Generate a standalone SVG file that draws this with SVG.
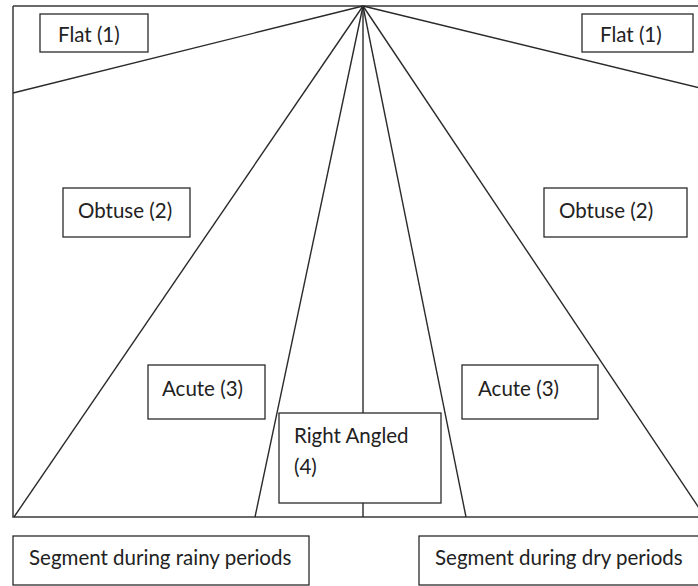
<svg xmlns="http://www.w3.org/2000/svg" width="698" height="586" viewBox="0 0 698 586">
<style>
.frame{fill:none;stroke:#3a3a3a;stroke-width:1.5}
.ln{stroke:#2a2a2a;stroke-width:1.4;fill:none}
.box{fill:#fff;stroke:#2a2a2a;stroke-width:1.3}
.t{font-family:Lato,"Liberation Sans",sans-serif;font-size:20.5px;fill:#222}
</style>
<rect width="698" height="586" fill="#fff"/>
<g id="frame">
<path class="frame" d="M13,6 H700 M13,6 V517 H700"/>
</g>
<g id="connectors">
<line class="ln" x1="363" y1="6" x2="13" y2="93"/>
<line class="ln" x1="363" y1="6" x2="700" y2="88"/>
<line class="ln" x1="363" y1="6" x2="14" y2="517"/>
<line class="ln" x1="363" y1="6" x2="255" y2="517"/>
<line class="ln" x1="363" y1="6" x2="363" y2="517"/>
<line class="ln" x1="363" y1="6" x2="466" y2="517"/>
<line class="ln" x1="363" y1="6" x2="705" y2="517"/>
</g>
<g id="flat-left"><rect class="box" x="40" y="14" width="108" height="38"/><text class="t" x="58" y="42">Flat (1)</text></g>
<g id="flat-right"><rect class="box" x="582" y="14" width="111" height="38"/><text class="t" x="600" y="42">Flat (1)</text></g>
<g id="obtuse-left"><rect class="box" x="63" y="188" width="127" height="49"/><text class="t" x="78" y="218">Obtuse (2)</text></g>
<g id="obtuse-right"><rect class="box" x="544" y="188" width="143" height="49"/><text class="t" x="559" y="218">Obtuse (2)</text></g>
<g id="acute-left"><rect class="box" x="148" y="365" width="117" height="54"/><text class="t" x="162" y="396">Acute (3)</text></g>
<g id="acute-right"><rect class="box" x="462" y="365" width="136" height="54"/><text class="t" x="478" y="396">Acute (3)</text></g>
<g id="right-angled"><rect class="box" x="279" y="413" width="162" height="90"/><text class="t" x="294" y="443">Right Angled</text><text class="t" x="294" y="474">(4)</text></g>
<g id="segment-rainy"><rect class="box" x="13" y="536" width="296" height="49"/><text class="t" x="29" y="565">Segment during rainy periods</text></g>
<g id="segment-dry"><rect class="box" x="419" y="536" width="285" height="49"/><text class="t" x="435" y="565">Segment during dry periods</text></g>
</svg>
